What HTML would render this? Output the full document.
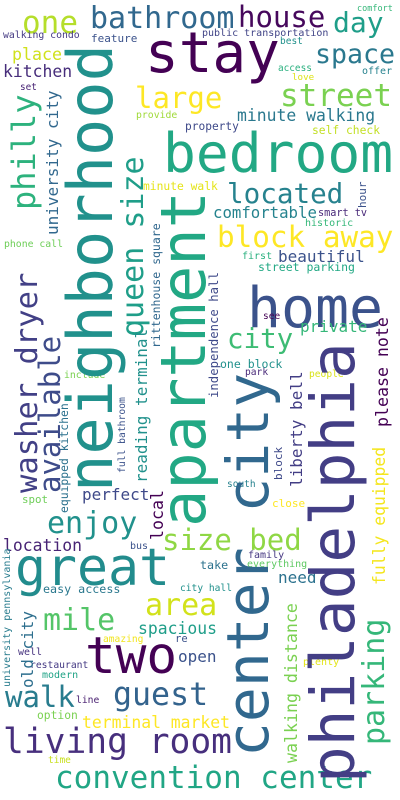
<!DOCTYPE html>
<html><head><meta charset="utf-8"><style>
html,body{margin:0;padding:0;background:#fff;}
svg{display:block;}
text{font-family:"DejaVu Sans Mono","Liberation Mono",monospace;}
</style></head><body>
<svg width="400" height="800" viewBox="0 0 400 800" id="wc">
<rect width="400" height="800" fill="#fff"/>
</svg>
<script>
// word, x, y (baseline), size, color, vertical(1)
const words = [
["one",22,33,31,"#b5de2b",0],["bathroom",90,28,30,"#31688e",0],["house",238,27,29,"#46085c",0],["day",333,32,28,"#1f9e89",0],
["comfort",357,11,8.5,"#35b779",0],["walking condo",3,38,9.8,"#443983",0],["feature",91,42,11,"#3b528b",0],
["public transportation",202,36,10,"#414487",0],["best",280,44,9.5,"#21918c",0],["stay",145,72,56,"#440154",0],
["space",315,63,26.6,"#2a788e",0],["place",12,60,16.6,"#d0e11c",0],["kitchen",3,77,16.4,"#472d7b",0],
["access",278,71,9.4,"#2ab07f",0],["offer",362,74,10,"#26828e",0],["love",292,80,9.2,"#dde318",0],["set",20,90,9.4,"#482475",0],
["large",135,108,29,"#fde725",0],["street",280,106,31,"#7ad151",0],["minute walking",237,121,16.4,"#2a788e",0],
["provide",136,118,9.8,"#a0da39",0],["property",185,130,11.2,"#3e4989",0],["self check",312,134,11.3,"#c2df23",0],
["bedroom",163,172,54.6,"#22a884",0],["located",227,203,27.6,"#26828e",0],["minute walk",143,190,11.3,"#e5e419",0],
["comfortable",213,218,15.7,"#25838e",0],["smart tv",318,216,10.2,"#482878",0],["historic",305,226,10,"#35b779",0],
["phone call",4,247,9.8,"#6ece58",0],["block away",217,247,29.3,"#fde725",0],["first",242,259,10,"#2ab07f",0],
["beautiful",278,262,16,"#3b528b",0],["street parking",258,271,11.5,"#22a884",0],["home",247,327,56.5,"#3b528b",0],
["city",227,348,27.5,"#3dbc74",0],["private",300,332,16,"#35b779",0],["see",263,319,9.5,"#440154",0],
["one block",220,368,11.5,"#21918c",0],["park",245,375,9.6,"#482878",0],["people",309,377,9.6,"#d8e219",0],
["include",64,378,9.8,"#7ad151",0],["perfect",82,500,16,"#3e4989",0],["spot",22,503,10.8,"#6ece58",0],
["south",227,487,9.5,"#26828e",0],["close",272,507,11,"#fde725",0],["need",278,583,16,"#2c728e",0],["plenty",303,665,10,"#e2e418",0],
["enjoy",47,533,30,"#21918c",0],["size bed",162,550,29,"#8fd744",0],["location",3,551,16.4,"#482475",0],["bus",130,549,10,"#3b528b",0],
["great",15,585,51.5,"#228c8d",0],["family",248,558,10,"#453781",0],["everything",247,567,10,"#5ec962",0],["take",200,569,11.7,"#2c728e",0],
["easy access",43,593,11.7,"#2a788e",0],["city hall",180,591,9.6,"#21918c",0],["area",145,615,30,"#d2e21b",0],["mile",43,630,30,"#54c568",0],
["spacious",138,634,16.4,"#1f9e89",0],["amazing",103,642,9.6,"#f1e51d",0],["re",175,642,10.5,"#3b528b",0],["two",85,673,51,"#440154",0],
["well",18,655,10,"#46327e",0],["open",178,662,16,"#3b528b",0],["restaurant",30,668,9.7,"#443983",0],["modern",42,678,10,"#20a386",0],
["walk",5,707,29,"#287c8e",0],["guest",113,705,31.6,"#33638d",0],["line",76,703,9.7,"#481f70",0],["option",37,719,11.3,"#7ad151",0],
["terminal market",82,728,16.4,"#fde725",0],["living room",3,753,34.6,"#472f7d",0],["time",48,763,9.5,"#c8e020",0],
["convention center",55,788,31,"#21a685",0],
["neighborhood",112,492,62,"#21918c",1],["philly",35,210,32,"#2db27d",1],["university city",58,235,16,"#31688e",1],
["queen size",143,337,30,"#1f9e89",1],["reading terminal",147,483,16,"#21918c",1],["rittenhouse square",160,348,11.5,"#31688e",1],
["independence hall",218,398,12.3,"#3e4989",1],["full bathroom",125,473,9.7,"#3b528b",1],["equipped kitchen",68,513,11.4,"#2c728e",1],
["local",163,540,16.6,"#440154",1],["hour",366,208,11,"#3b528b",1],["apartment",205,527,62,"#22a884",1],
["center city",268,757,58,"#31688e",1],["philadelphia",354,783,61,"#433e85",1],["washer dryer",37,493,30.5,"#424086",1],
["available",60,493,29,"#3e4c8a",1],["parking",384,745,30,"#35b779",1],["fully equipped",385,585,16.4,"#f4e61e",1],
["please note",388,427,16.6,"#440154",1],["liberty bell",302,487,16,"#433e85",1],["block",282,480,11,"#3e4989",1],
["walking distance",297,763,16.6,"#7ad151",1],["old city",33,688,16,"#2e6f8e",1],["university pennsylvania",10,687,10,"#287c8e",1]
];
const svg = document.getElementById('wc');
for (const w of words) {
  const t = document.createElementNS('http://www.w3.org/2000/svg','text');
  t.textContent = w[0];
  t.setAttribute('font-size', w[3]);
  t.setAttribute('fill', w[4]);
  if (w[5]) {
    t.setAttribute('transform', 'translate(' + w[1] + ',' + w[2] + ') rotate(-90)');
  } else {
    t.setAttribute('x', w[1]);
    t.setAttribute('y', w[2]);
  }
  
  
  svg.appendChild(t);
}
</script>
</body></html>
